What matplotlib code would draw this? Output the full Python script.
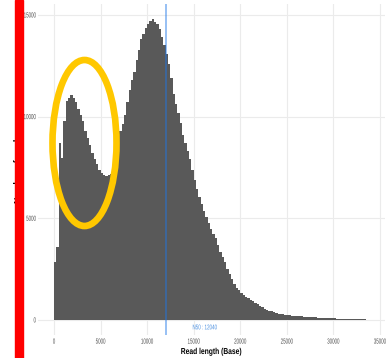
import numpy as np
import matplotlib
matplotlib.use("Agg")
import matplotlib.pyplot as plt
from matplotlib.patches import Ellipse, Rectangle
from matplotlib.patheffects import AbstractPathEffect
from matplotlib.transforms import Affine2D

# read-length histogram, 250 bp bins starting at 0
bin_width = 250
counts = [
    2840, 3600, 8680, 7990, 9800, 10780, 10930, 11050, 10930, 10700,
    10400, 10100, 9800, 9300, 8970, 8600, 8200, 7900, 7650, 7400,
    7250, 7150, 7100, 7150, 7200, 7500, 8300, 8900, 9300, 9650,
    10100, 10700, 11300, 11800, 12200, 12800, 13300, 13800, 14050, 14350,
    14550, 14700, 14800, 14650, 14550, 14300, 13900, 13500, 13100, 12600,
    11900, 11100, 10600, 10200, 9700, 9100, 8700, 8300, 7900, 7400,
    6900, 6450, 6050, 5700, 5350, 5050, 4750, 4480, 4250, 4050,
    3700, 3350, 3100, 2850, 2500, 2250, 2000, 1750, 1580, 1460,
    1350, 1240, 1140, 1080, 990, 920, 850, 780, 700, 620,
    560, 510, 460, 420, 370, 340, 310, 290, 270, 255,
    240, 225, 210, 200, 190, 180, 170, 160, 150, 145,
    140, 130, 125, 120, 110, 100, 95, 90, 85, 80,
    75, 70, 65, 60, 58, 55, 52, 50, 50, 48,
    45, 42, 40, 38,
]
n50 = 12040
x_ticks = [0, 5000, 10000, 15000, 20000, 25000, 30000, 35000]
y_ticks = [0, 5000, 10000, 15000]


class Squeeze(AbstractPathEffect):
    """narrow the text horizontally around display x = cx"""
    def __init__(self, sx, cx):
        super().__init__()
        self.sx, self.cx = sx, cx

    def draw_path(self, renderer, gc, tpath, affine, rgbFace=None):
        t = affine + Affine2D().translate(-self.cx, 0).scale(self.sx, 1).translate(self.cx, 0)
        renderer.draw_path(gc, tpath, t, rgbFace)


font = 'Liberation Sans'
W, H = 386, 358
fig = plt.figure(figsize=(W / 100, H / 100), dpi=100)
ax = fig.add_axes([38.2 / W, 1 - 335 / H, (384.6 - 38.2) / W, 331 / H])

edges = np.arange(len(counts) + 1) * bin_width
ax.stairs(counts, edges, fill=True, color='#595959', zorder=2)

ax.axvline(n50, color='#1f77e8', alpha=0.5, lw=1.3, zorder=3)

ax.set_xlim(-1700, 35500)
ax.set_ylim(-740, 15540)
ax.set_xticks(x_ticks)
ax.set_yticks(y_ticks)
ax.set_xticklabels([str(v) for v in x_ticks], family=font, fontsize=5.3, color='#4d4d4d')
ax.set_yticklabels([str(v) for v in y_ticks], family=font, fontsize=5.3, color='#4d4d4d')
ax.tick_params(length=0)
ax.tick_params(axis='x', pad=2.6)
ax.tick_params(axis='y', pad=1.6)
ax.grid(True, color='#ebebeb', lw=0.8, zorder=0)
ax.set_axisbelow(True)
for s in ax.spines.values():
    s.set_visible(False)

for v, lab in zip(x_ticks, ax.get_xticklabels()):
    lab.set_path_effects([Squeeze(0.6, ax.transData.transform((v, 0))[0])])
y_right = ax.transAxes.transform((0, 0))[0] - 1.6 * 100 / 72
for lab in ax.get_yticklabels():
    lab.set_path_effects([Squeeze(0.6, y_right)])

t = ax.text(16210, -390, f"N50 : {n50}", color='#4a8fe0', fontsize=5,
            ha='center', va='center', family=font, zorder=4)
t.set_path_effects([Squeeze(0.65, ax.transData.transform((16210, 0))[0])])

xl = ax.set_xlabel("Read length (Base)", family=font, fontsize=6.2, fontweight='bold',
                   labelpad=1.0)
xl.set_path_effects([Squeeze(0.78, ax.transAxes.transform((0.5, 0))[0])])

# y title, mostly hidden behind the red bar
fig.text(18.5 / W, 1 - 168.5 / H, "Number of reads", rotation=90, family=font,
         fontsize=6.2, fontweight='bold', ha='center', va='center')

# red bar and yellow ring drawn over the figure
fig.patches.append(Rectangle((15 / W, 0), 7.5 / W, 1, transform=fig.transFigure,
                             color='#ff0000', zorder=10))
fig.patches.append(Ellipse((84.5 / W, 1 - 143 / H), 64 / W, 166 / H,
                           transform=fig.transFigure, fill=False,
                           edgecolor='#ffc800', lw=4.8, zorder=11))

fig.savefig("out.png", dpi=100)
